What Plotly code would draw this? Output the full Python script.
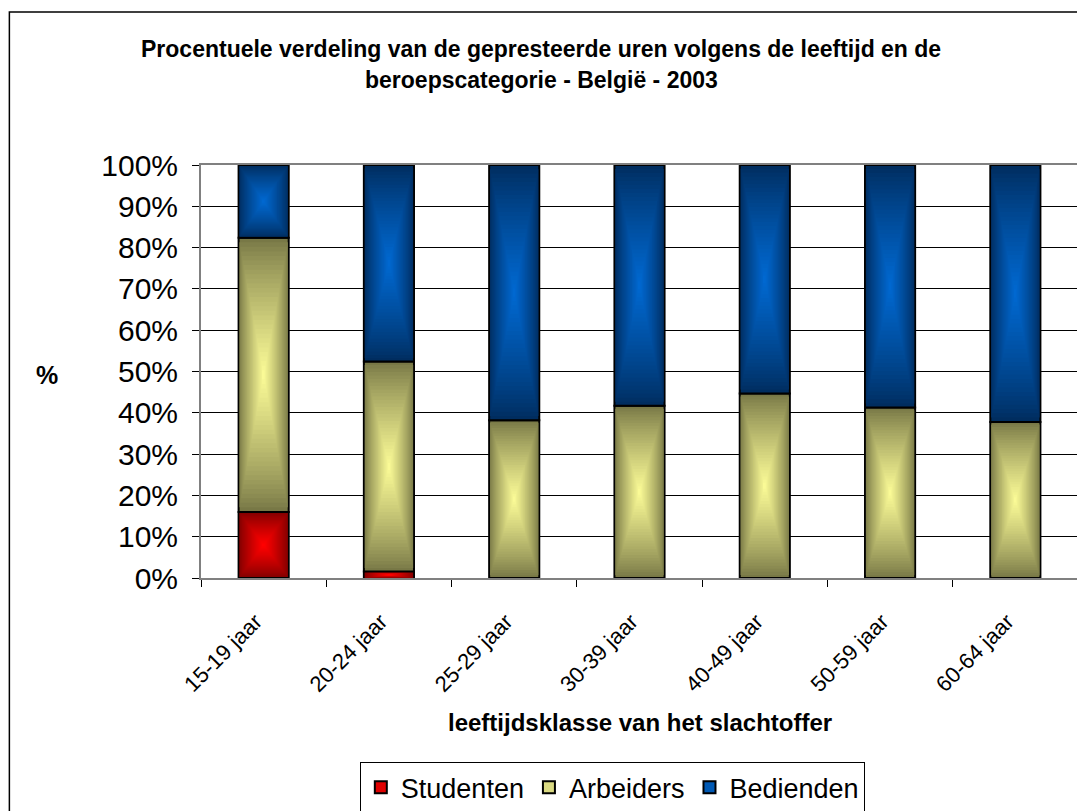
import plotly.graph_objects as go

# ==============================================================
# Data: share of worked hours by age class and job category (%)
# ==============================================================
age_classes = ["15-19 jaar", "20-24 jaar", "25-29 jaar", "30-39 jaar",
               "40-49 jaar", "50-59 jaar", "60-64 jaar"]
studenten = [16.0, 1.6, 0.0, 0.0, 0.0, 0.0, 0.0]
arbeiders = [66.4, 50.8, 38.2, 41.7, 44.7, 41.3, 37.8]
bedienden = [17.6, 47.6, 61.8, 58.3, 55.3, 58.7, 62.2]

series = [
    ("Studenten", studenten, (128, 0, 0), (255, 0, 0)),
    ("Arbeiders", arbeiders, (120, 120, 70), (250, 250, 150)),
    ("Bedienden", bedienden, (0, 45, 95), (0, 104, 208)),
]

FONT = "Arial, Liberation Sans, sans-serif"
BAR_W = 0.4
N_LAYERS = 30


def mix(c0, c1, t):
    return "rgb({},{},{})".format(*[round(a + (b - a) * t) for a, b in zip(c0, c1)])


fig = go.Figure()

# --------------------------------------------------
# Stacked bars, drawn as concentric layers to mimic the "from centre" gradient
# --------------------------------------------------
cum = [0.0] * len(age_classes)
for name, vals, edge, centre in series:
    for k in range(N_LAYERS):
        s = 1 - k / N_LAYERS
        t = (k / (N_LAYERS - 1)) ** 0.85
        fig.add_trace(go.Bar(
            x=age_classes,
            y=[v * s for v in vals],
            base=[c + v * (1 - s) / 2 for c, v in zip(cum, vals)],
            width=BAR_W * s,
            marker=dict(color=mix(edge, centre, t),
                        line=dict(color="black", width=2 if k == 0 else 0)),
            showlegend=False,
            hoverinfo="skip",
        ))
    cum = [c + v for c, v in zip(cum, vals)]

# legend entries
for name, vals, edge, centre in series:
    fig.add_trace(go.Bar(
        x=[None], y=[None], name=name,
        marker=dict(color=mix(edge, centre, 0.75), line=dict(color="black", width=2)),
    ))

fig.update_layout(
    width=1085,
    height=811,
    barmode="overlay",
    plot_bgcolor="white",
    paper_bgcolor="white",
    margin=dict(l=193, r=15, t=157, b=241, autoexpand=False),
    font=dict(family=FONT, color="black"),
    legend=dict(
        orientation="h",
        x=0.469, xanchor="center",
        y=-0.508, yanchor="middle",
        font=dict(size=27),
        bordercolor="black", borderwidth=1,
        traceorder="normal",
        itemwidth=30,
    ),
    xaxis=dict(
        automargin=False,
        tickangle=-45,
        tickfont=dict(size=22),
        tickson="boundaries",
        ticks="outside", ticklen=7, tickcolor="black",
        ticklabelstandoff=20,
        ticklabelshift=-8,
        showline=True, linecolor="#808080", linewidth=2, mirror=True,
        showgrid=False,
    ),
    yaxis=dict(
        automargin=False,
        range=[0, 100],
        dtick=10,
        ticksuffix="%",
        tickfont=dict(size=30),
        ticks="outside", ticklen=7, tickcolor="black",
        ticklabelstandoff=8,
        showline=True, linecolor="#808080", linewidth=2, mirror=True,
        showgrid=True, gridcolor="black", gridwidth=1,
        zeroline=False,
    ),
    annotations=[
        dict(text="<b>Procentuele verdeling van de gepresteerde uren volgens de leeftijd en de</b>",
             xref="paper", yref="paper", x=0.388, y=1.281, showarrow=False,
             xanchor="center", yanchor="middle", font=dict(size=23)),
        dict(text="<b>beroepscategorie - België - 2003</b>",
             xref="paper", yref="paper", x=0.388, y=1.206, showarrow=False,
             xanchor="center", yanchor="middle", font=dict(size=23)),
        dict(text="<b>%</b>", xref="paper", yref="paper", x=-0.176, y=0.4915,
             showarrow=False, xanchor="center", yanchor="middle", font=dict(size=25)),
        dict(text="<b>leeftijdsklasse van het slachtoffer</b>",
             xref="paper", yref="paper", x=0.5, y=-0.351, showarrow=False,
             xanchor="center", yanchor="middle", font=dict(size=24)),
    ],
    shapes=[
        dict(type="rect", xref="paper", yref="paper",
             x0=-0.2185, x1=1.05, y0=-0.7, y1=1.3705,
             line=dict(color="black", width=1.5), layer="below"),
    ],
)

fig.write_html("out.html")
